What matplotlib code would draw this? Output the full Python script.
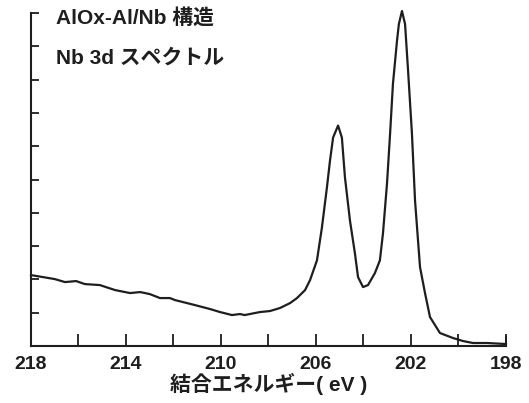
import matplotlib.pyplot as plt
from matplotlib.ticker import MultipleLocator

plt.rcParams['font.family'] = ['Liberation Sans', 'Noto Sans CJK JP', 'DejaVu Sans']

# Nb 3d spectrum (binding energy eV, intensity a.u.)
energy = [218.0, 217.0, 216.57, 216.1, 215.73, 215.1, 214.46, 213.83, 213.4, 213.0,
          212.57, 212.15, 211.94, 211.1, 210.46, 210.04, 209.54, 209.2, 209.0, 208.36,
          207.94, 207.52, 207.09, 206.8, 206.46, 206.25, 205.96, 205.75, 205.54, 205.41,
          205.28, 205.07, 204.91, 204.78, 204.57, 204.36, 204.23, 204.02, 203.81, 203.52,
          203.31, 203.18, 203.01, 202.88, 202.76, 202.59, 202.51, 202.38, 202.25, 202.13,
          201.96, 201.83, 201.62, 201.41, 201.2, 200.78, 200.23, 199.81, 199.39, 198.8,
          198.0]
intensity = [2.13, 2.01, 1.92, 1.95, 1.86, 1.83, 1.68, 1.59, 1.62, 1.56,
             1.44, 1.44, 1.38, 1.23, 1.11, 1.02, 0.93, 0.96, 0.93, 1.02,
             1.05, 1.14, 1.29, 1.44, 1.68, 1.98, 2.57, 3.56, 4.76, 5.57,
             6.26, 6.62, 6.26, 5.06, 3.77, 2.78, 2.07, 1.77, 1.83, 2.19,
             2.57, 3.38, 4.88, 6.38, 7.87, 9.16, 9.67, 10.06, 9.67, 8.35,
             6.38, 4.37, 2.37, 1.59, 0.87, 0.39, 0.24, 0.15, 0.09, 0.09,
             0.06]

major_ticks = [218, 214, 210, 206, 202, 198]

fig = plt.figure(figsize=(5.29, 4.03), dpi=100)
ax = fig.add_axes([0.0586, 0.1414, 0.8979, 0.8263])

ink = '#1e1e1e'
ax.plot(energy, intensity, color=ink, lw=1.6, clip_on=False)

ax.set_xlim(218, 198)
ax.set_ylim(0, 10)
ax.set_xticks(major_ticks)
ax.set_xticklabels([str(t) for t in major_ticks], fontsize=14, fontweight='bold')
ax.xaxis.set_minor_locator(MultipleLocator(2))
ax.yaxis.set_major_locator(MultipleLocator(1))
ax.set_yticklabels([])

ax.tick_params(axis='x', which='both', direction='in', length=9, width=1.3,
               color=ink, pad=7, labelcolor=ink)
ax.tick_params(axis='y', which='both', direction='in', length=6, width=1.3, color=ink)

for side in ['top', 'right']:
    ax.spines[side].set_visible(False)
for side in ['left', 'bottom']:
    ax.spines[side].set_linewidth(1.5)
    ax.spines[side].set_color(ink)

# right-end tick at 198
ax.plot([198, 198], [0, 0.28], color=ink, lw=1.3, clip_on=False)

ax.set_xlabel('結合エネルギー( eV )', fontsize=15, fontweight='bold', color=ink, labelpad=0)

ax.text(0.052, 0.985, 'AlOx-Al/Nb 構造', transform=ax.transAxes, fontsize=15,
        fontweight='bold', color=ink, va='center', ha='left')
ax.text(0.052, 0.865, 'Nb 3d スペクトル', transform=ax.transAxes, fontsize=15,
        fontweight='bold', color=ink, va='center', ha='left')

fig.savefig('out.png', dpi=100)
